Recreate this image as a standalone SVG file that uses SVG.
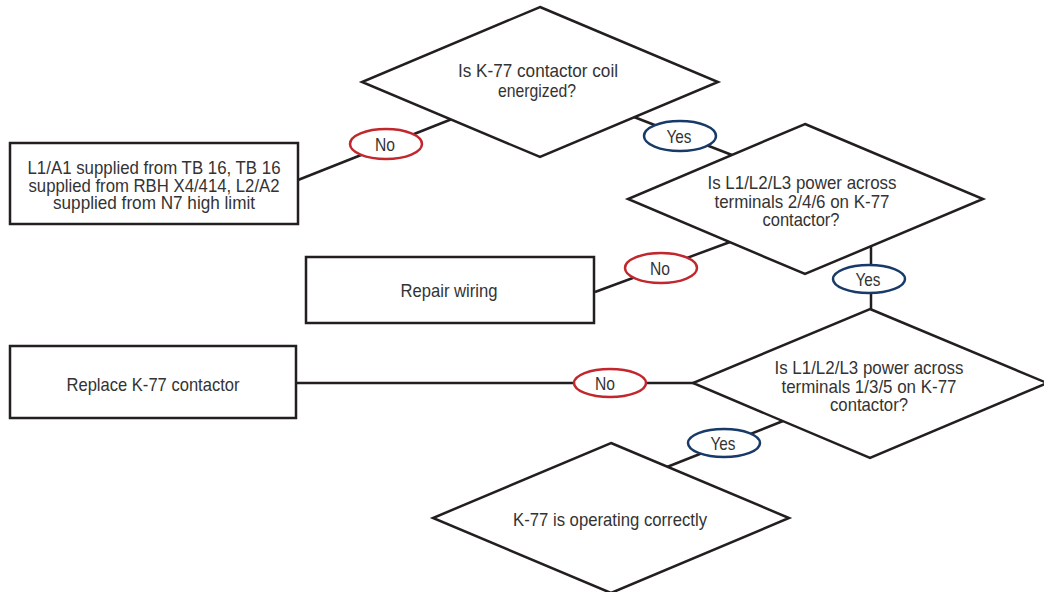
<svg xmlns="http://www.w3.org/2000/svg" width="1044" height="592" viewBox="0 0 1044 592">
<style>
.shape{fill:#fff;stroke:#231f20;stroke-width:2.5}
.conn{stroke:#231f20;stroke-width:2.5;fill:none}
.no{fill:#fff;stroke:#c1272d;stroke-width:2.5}
.yes{fill:#fff;stroke:#173a68;stroke-width:2.5}
text{font-family:"Liberation Sans Narrow","Arial Narrow","Liberation Sans",sans-serif;font-size:18.5px;fill:#333;text-anchor:middle}
</style>
<rect width="1044" height="592" fill="#fff"/>
<g id="connectors">
<line class="conn" x1="298" y1="180" x2="452" y2="119"/>
<line class="conn" x1="634" y1="117" x2="732" y2="155"/>
<line class="conn" x1="595" y1="292" x2="730" y2="242"/>
<line class="conn" x1="871" y1="245" x2="871" y2="310"/>
<line class="conn" x1="296" y1="383" x2="694" y2="383"/>
<line class="conn" x1="783" y1="421" x2="667" y2="467"/>
</g>
<g id="d1"><polygon class="shape" points="540,7 718,82 540,157 362,82"/>
<text x="538" y="77" textLength="160" lengthAdjust="spacingAndGlyphs">Is K-77 contactor coil</text><text x="537" y="97" textLength="78" lengthAdjust="spacingAndGlyphs">energized?</text></g>
<g id="box1"><rect class="shape" x="10" y="143" width="288" height="81"/>
<text x="154" y="174" textLength="253" lengthAdjust="spacingAndGlyphs">L1/A1 supplied from TB 16, TB 16</text><text x="154" y="192" textLength="251" lengthAdjust="spacingAndGlyphs">supplied from RBH X4/414, L2/A2</text><text x="154" y="209" textLength="202" lengthAdjust="spacingAndGlyphs">supplied from N7 high limit</text></g>
<g id="d2"><polygon class="shape" points="805,124 983,199 805,274 628,199"/>
<text x="802" y="189" textLength="189" lengthAdjust="spacingAndGlyphs">Is L1/L2/L3 power across</text><text x="802" y="208" textLength="175" lengthAdjust="spacingAndGlyphs">terminals 2/4/6 on K-77</text><text x="801" y="226" textLength="77" lengthAdjust="spacingAndGlyphs">contactor?</text></g>
<g id="box2"><rect class="shape" x="306" y="257" width="288" height="66"/>
<text x="449" y="297" textLength="97" lengthAdjust="spacingAndGlyphs">Repair wiring</text></g>
<g id="d3"><polygon class="shape" points="870,309 1047,383 870,458 693,383"/>
<text x="869" y="374" textLength="189" lengthAdjust="spacingAndGlyphs">Is L1/L2/L3 power across</text><text x="869" y="393" textLength="175" lengthAdjust="spacingAndGlyphs">terminals 1/3/5 on K-77</text><text x="869" y="411" textLength="78" lengthAdjust="spacingAndGlyphs">contactor?</text></g>
<g id="box3"><rect class="shape" x="10" y="346" width="286" height="72"/>
<text x="153" y="391" textLength="173" lengthAdjust="spacingAndGlyphs">Replace K-77 contactor</text></g>
<g id="d4"><polygon class="shape" points="611,443 789,518 611,593 433,518"/>
<text x="610" y="526" textLength="194" lengthAdjust="spacingAndGlyphs">K-77 is operating correctly</text></g>
<g id="labels">
<ellipse class="no" cx="386" cy="144" rx="36" ry="15"/><text x="385" y="151" textLength="20" lengthAdjust="spacingAndGlyphs">No</text>
<ellipse class="yes" cx="680" cy="136" rx="36" ry="15"/><text x="679" y="143" textLength="25" lengthAdjust="spacingAndGlyphs">Yes</text>
<ellipse class="no" cx="661" cy="268" rx="36" ry="15"/><text x="660" y="275" textLength="20" lengthAdjust="spacingAndGlyphs">No</text>
<ellipse class="yes" cx="869" cy="279" rx="36" ry="14"/><text x="868" y="286" textLength="25" lengthAdjust="spacingAndGlyphs">Yes</text>
<ellipse class="no" cx="610" cy="383" rx="36" ry="14"/><text x="605" y="390" textLength="20" lengthAdjust="spacingAndGlyphs">No</text>
<ellipse class="yes" cx="724" cy="443" rx="36" ry="14"/><text x="723" y="450" textLength="25" lengthAdjust="spacingAndGlyphs">Yes</text>
</g>
</svg>
